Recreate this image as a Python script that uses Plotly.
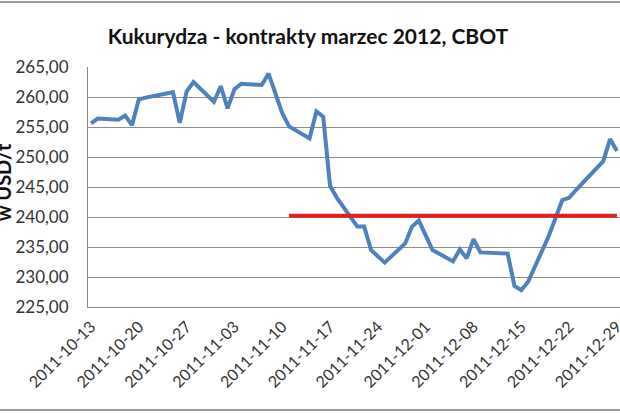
import plotly.graph_objects as go

dates = [
    "2011-10-13", "2011-10-14", "2011-10-17", "2011-10-18", "2011-10-19", "2011-10-20",
    "2011-10-21", "2011-10-24", "2011-10-25", "2011-10-26", "2011-10-27", "2011-10-28",
    "2011-10-31", "2011-11-01", "2011-11-02", "2011-11-03", "2011-11-04", "2011-11-07",
    "2011-11-08", "2011-11-09", "2011-11-10", "2011-11-11", "2011-11-14", "2011-11-15",
    "2011-11-16", "2011-11-17", "2011-11-18", "2011-11-21", "2011-11-22", "2011-11-23",
    "2011-11-25", "2011-11-28", "2011-11-29", "2011-11-30", "2011-12-01", "2011-12-02",
    "2011-12-05", "2011-12-06", "2011-12-07", "2011-12-08", "2011-12-09", "2011-12-12",
    "2011-12-13", "2011-12-14", "2011-12-15", "2011-12-16", "2011-12-19", "2011-12-20",
    "2011-12-21", "2011-12-22", "2011-12-23", "2011-12-27", "2011-12-28", "2011-12-29",
]
prices = [
    255.6, 256.4, 256.2, 256.9, 255.3, 259.6,
    259.9, 260.6, 260.8, 255.7, 260.9, 262.5,
    259.2, 261.8, 258.1, 261.3, 262.2, 262.0,
    263.9, 260.6, 257.3, 255.1, 253.1, 257.6,
    256.7, 245.2, 243.2, 238.4, 238.4, 234.5,
    232.4, 235.6, 238.4, 239.4, 236.9, 234.5,
    232.6, 234.6, 233.1, 236.3, 234.1, 233.95,
    233.9, 228.5, 227.8, 229.2, 236.8, 239.8,
    242.8, 243.2, 244.5, 249.3, 253.0, 251.0,
]
level_dates = ["2011-11-11", "2011-12-29"]
level_values = [240.2, 240.2]

tick_dates = [
    "2011-10-13", "2011-10-20", "2011-10-27", "2011-11-03", "2011-11-10", "2011-11-17",
    "2011-11-24", "2011-12-01", "2011-12-08", "2011-12-15", "2011-12-22", "2011-12-29",
]
y_ticks = [225, 230, 235, 240, 245, 250, 255, 260, 265]
y_labels = ["225,00", "230,00", "235,00", "240,00", "245,00", "250,00", "255,00", "260,00", "265,00"]

title_text = "Kukurydza - kontrakty marzec 2012, CBOT"
y_title = "w USD/t"

FONT = "Lato"

fig = go.Figure()
fig.add_trace(go.Scatter(x=dates, y=prices, mode="lines",
                         line=dict(color="#4F81BD", width=4), showlegend=False))
fig.add_trace(go.Scatter(x=level_dates, y=level_values, mode="lines",
                         line=dict(color="#E0201F", width=4), showlegend=False))

fig.update_layout(
    width=620, height=413,
    margin=dict(l=88, r=0, t=67, b=106, autoexpand=False),
    paper_bgcolor="white", plot_bgcolor="white",
    font=dict(family=FONT, color="#333333"),
    title=dict(text="<b>" + title_text + "</b>", x=308 / 620, xanchor="center",
               y=1 - 37 / 413, yanchor="middle",
               font=dict(family=FONT, size=21, color="#111111")),
    xaxis=dict(
        type="date", automargin=False,
        range=["2011-10-12 13:30", "2011-12-29 10:48"],
        tickvals=tick_dates, ticktext=tick_dates,
        tickangle=-45, tickfont=dict(size=16, color="#333333"),
        showgrid=False, showline=True, linecolor="#868686", linewidth=1,
        ticks="", zeroline=False, ticklabelstandoff=3, ticklabeloverflow="allow",
    ),
    yaxis=dict(
        range=[225, 265], tickvals=y_ticks, ticktext=y_labels, automargin=False,
        tickfont=dict(size=17, color="#333333"),
        showgrid=True, gridcolor="#8C8C8C", gridwidth=1,
        showline=True, linecolor="#868686", linewidth=1,
        ticks="", zeroline=False, ticklabelstandoff=15,
    ),
    annotations=[dict(
        text="<b>" + y_title + "</b>", textangle=-90,
        xref="paper", yref="paper",
        x=(3 - 88) / 532, y=0.52, xanchor="center", yanchor="middle",
        showarrow=False, font=dict(family=FONT, size=20, color="#111111"),
    )],
    shapes=[
        dict(type="line", xref="paper", yref="paper",
             x0=-88 / 532, x1=1.0, y0=1 + (67 - 2) / 240, y1=1 + (67 - 2) / 240,
             line=dict(color="#9A9A9A", width=2)),
        dict(type="line", xref="paper", yref="paper",
             x0=-88 / 532, x1=1.0, y0=-(410 - 307) / 240, y1=-(410 - 307) / 240,
             line=dict(color="#9A9A9A", width=2)),
    ],
)

fig.write_html("out.html", config={"displayModeBar": False},
               post_script="document.body.style.margin='0';document.body.style.overflow='hidden';")
